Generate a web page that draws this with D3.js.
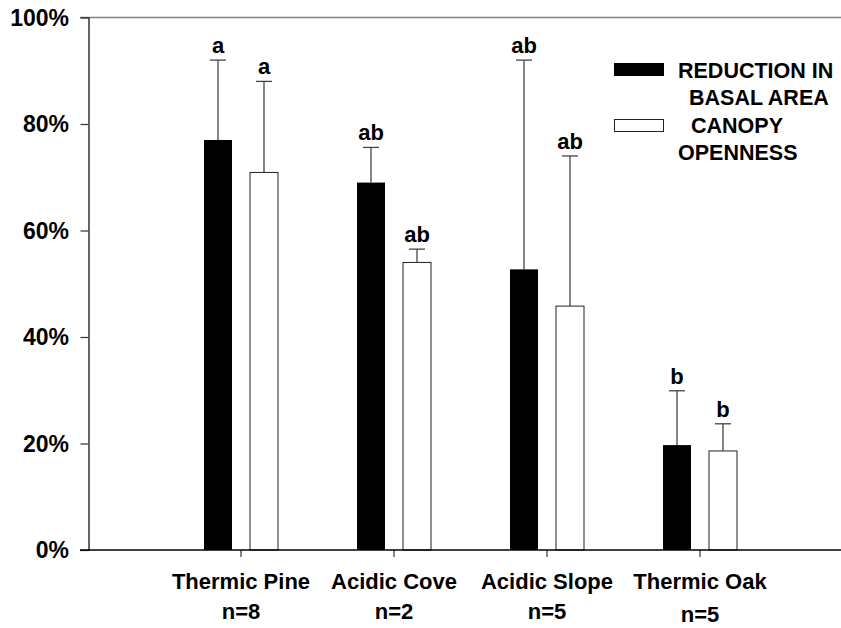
<!DOCTYPE html>
<html>
<head>
<meta charset="utf-8">
<script src="https://cdnjs.cloudflare.com/ajax/libs/d3/7.8.5/d3.min.js"></script>
<style>
  body { margin: 0; background: #fff; }
  text { font-family: "Liberation Sans", Arial, sans-serif; font-weight: bold; fill: #000; }
</style>
</head>
<body>
<div id="chart"></div>
<script>
// data
var categories = ["Thermic Pine", "Acidic Cove", "Acidic Slope", "Thermic Oak"];
var sampleSizes = ["n=8", "n=2", "n=5", "n=5"];
var series = ["REDUCTION IN BASAL AREA", "CANOPY OPENNESS"];
var basalArea = [77, 69, 52.7, 19.7];
var basalAreaErr = [15, 6.6, 39.3, 10.2];
var canopy = [70.9, 54, 45.8, 18.6];
var canopyErr = [17.1, 2.5, 28.2, 5.1];
var basalLetters = ["a", "ab", "ab", "b"];
var canopyLetters = ["a", "ab", "ab", "b"];
var yTicks = [0, 20, 40, 60, 80, 100];

var svgWidth = 841;
var svgHeight = 628;

var svg = d3.select("#chart")
  .append("svg")
  .attr("width", svgWidth)
  .attr("height", svgHeight);

// scales
var axisLeftX = 88.5;
var yScale = d3.scaleLinear().domain([0, 100]).range([550, 17.5]);
var xScale = d3.scaleBand().domain(categories).range([164.5, 776.5]);
var xInner = d3.scaleBand().domain(series).range([-37, 37]).paddingInner(18 / 46);

// build rows for the bars
var rows = [];
categories.forEach(function(c, i) {
  rows.push({cat: c, s: series[0], v: basalArea[i], e: basalAreaErr[i], l: basalLetters[i]});
  rows.push({cat: c, s: series[1], v: canopy[i], e: canopyErr[i], l: canopyLetters[i]});
});
var fills = {};
fills[series[0]] = "#000";
fills[series[1]] = "#fff";

function barX(d) {
  return xScale(d.cat) + xScale.bandwidth() / 2 + xInner(d.s);
}

// frame: top border (gray)
svg.append("line")
  .attr("x1", 80).attr("x2", svgWidth)
  .attr("y1", yScale(100)).attr("y2", yScale(100))
  .attr("stroke", "#808080").attr("stroke-width", 1.5);

// y axis
var leftAxis = d3.axisLeft(yScale)
  .tickValues(yTicks.slice(0, -1))
  .tickSize(8)
  .tickFormat("");
var yAxisG = svg.append("g")
  .attr("transform", "translate(" + axisLeftX + ",0)")
  .call(leftAxis);
yAxisG.select(".domain").attr("stroke", "#000").attr("stroke-width", 1.2);
yAxisG.selectAll(".tick line").attr("stroke", "#333").attr("stroke-width", 1.2);

// y tick labels
svg.selectAll(".ylabel")
  .data(yTicks)
  .enter()
  .append("text")
  .attr("class", "ylabel")
  .attr("x", 69)
  .attr("y", function(d) { return yScale(d); })
  .attr("dy", "0.36em")
  .attr("text-anchor", "end")
  .style("font-size", "23px")
  .text(function(d) { return d + "%"; });

// bars
svg.selectAll(".bar")
  .data(rows)
  .enter()
  .append("rect")
  .attr("class", "bar")
  .attr("x", barX)
  .attr("y", function(d) { return yScale(d.v); })
  .attr("width", xInner.bandwidth())
  .attr("height", function(d) { return yScale(0) - yScale(d.v); })
  .attr("fill", function(d) { return fills[d.s]; })
  .attr("stroke", function(d) { return d.s === series[1] ? "#222" : "none"; })
  .attr("stroke-width", 1);

// error bars (upper only)
var errG = svg.selectAll(".err")
  .data(rows)
  .enter()
  .append("g")
  .attr("class", "err")
  .attr("stroke", "#444")
  .attr("stroke-width", 1.3);
errG.append("line")
  .attr("x1", function(d) { return barX(d) + xInner.bandwidth() / 2; })
  .attr("x2", function(d) { return barX(d) + xInner.bandwidth() / 2; })
  .attr("y1", function(d) { return yScale(d.v); })
  .attr("y2", function(d) { return yScale(d.v + d.e); });
errG.append("line")
  .attr("x1", function(d) { return barX(d) + xInner.bandwidth() / 2 - 8; })
  .attr("x2", function(d) { return barX(d) + xInner.bandwidth() / 2 + 8; })
  .attr("y1", function(d) { return yScale(d.v + d.e); })
  .attr("y2", function(d) { return yScale(d.v + d.e); });

// significance letters
svg.selectAll(".letter")
  .data(rows)
  .enter()
  .append("text")
  .attr("class", "letter")
  .attr("x", function(d) { return barX(d) + xInner.bandwidth() / 2; })
  .attr("y", function(d) { return yScale(d.v + d.e) - 7; })
  .attr("text-anchor", "middle")
  .style("font-size", "22px")
  .text(function(d) { return d.l; });

// x axis
var bottomAxis = d3.axisBottom(xScale).tickSize(7).tickFormat("");
var xAxisG = svg.append("g")
  .attr("transform", "translate(0," + yScale(0) + ")")
  .call(bottomAxis);
xAxisG.select(".domain").remove();
xAxisG.selectAll(".tick line").attr("stroke", "#333").attr("stroke-width", 1.2);
svg.append("line")
  .attr("x1", 80).attr("x2", svgWidth)
  .attr("y1", yScale(0)).attr("y2", yScale(0))
  .attr("stroke", "#000").attr("stroke-width", 1.6);

// category labels
svg.selectAll(".xlabel")
  .data(categories)
  .enter()
  .append("text")
  .attr("class", "xlabel")
  .attr("x", function(d) { return xScale(d) + xScale.bandwidth() / 2; })
  .attr("y", 589)
  .attr("text-anchor", "middle")
  .style("font-size", "22px")
  .text(function(d) { return d; });

svg.selectAll(".nlabel")
  .data(sampleSizes)
  .enter()
  .append("text")
  .attr("class", "nlabel")
  .attr("x", function(d, i) { return xScale(categories[i]) + xScale.bandwidth() / 2; })
  .attr("y", function(d, i) { return i === 3 ? 622 : 619; })
  .attr("text-anchor", "middle")
  .style("font-size", "22px")
  .text(function(d) { return d; });

// legend
var legend = svg.append("g").style("font-size", "21.5px");
legend.append("rect")
  .attr("x", 614).attr("y", 63).attr("width", 50).attr("height", 13)
  .attr("fill", "#000");
legend.append("rect")
  .attr("x", 614.5).attr("y", 119.5).attr("width", 49).attr("height", 12)
  .attr("fill", "#fff").attr("stroke", "#222").attr("stroke-width", 1);
legend.append("text").attr("x", 678).attr("y", 78).text("REDUCTION IN");
legend.append("text").attr("x", 689).attr("y", 105).text("BASAL AREA");
legend.append("text").attr("x", 691).attr("y", 133).text("CANOPY");
legend.append("text").attr("x", 678).attr("y", 160).text("OPENNESS");
</script>
</body>
</html>
